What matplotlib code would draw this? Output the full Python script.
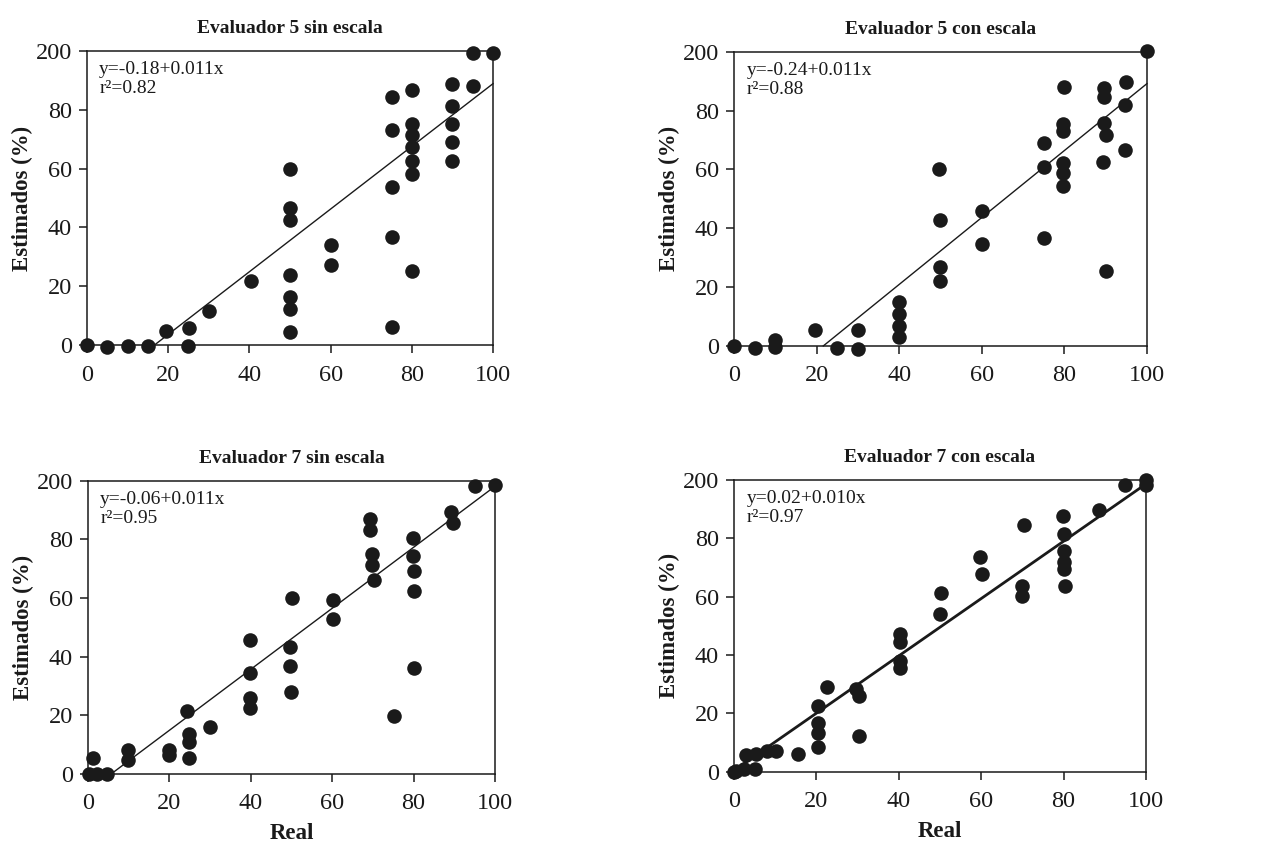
import numpy as np
import matplotlib
matplotlib.use('Agg')
import matplotlib.pyplot as plt

plt.rcParams['font.family'] = ['Liberation Serif', 'DejaVu Serif']

# Evaluador 5 sin escala
real_5s = [0, 5, 10, 15, 19.5, 24.8, 25.2, 30, 40.5, 50, 50, 50, 50, 50, 50, 50,
           60, 60, 75, 75, 75, 75, 75, 80, 80, 80, 80, 80, 80, 80,
           90, 90, 90, 90, 90, 95, 95, 100]
est_5s = [0, -0.6, -0.2, -0.2, 4.9, -0.2, 5.9, 11.7, 21.9, 60.0, 46.7, 42.7, 23.9, 16.4, 12.3, 4.3,
          34.0, 27.1, 84.3, 73.0, 53.7, 36.8, 6.0, 86.7, 75.2, 71.6, 67.4, 62.7, 58.3, 25.3,
          88.9, 81.3, 75.1, 68.9, 62.6, 99.3, 88.0, 99.3]

# Evaluador 5 con escala
real_5c = [0, 5, 10, 10, 19.7, 25, 30, 30, 40, 40, 40, 40, 49.7, 50, 50, 50,
           60, 60, 75, 75, 75, 80, 79.7, 79.7, 79.7, 79.7, 79.7,
           89.5, 89.5, 89.5, 90.1, 89.3, 90, 95, 94.8, 94.6, 100]
est_5c = [0, -0.6, 2.0, -0.2, 5.4, -0.6, 5.4, -1.1, 15.1, 10.9, 6.8, 3.2, 60.0, 42.8, 27.0, 22.1,
          45.9, 34.7, 68.9, 60.9, 36.8, 88.1, 75.4, 73.0, 62.1, 58.7, 54.4,
          87.7, 84.5, 75.7, 71.7, 62.4, 25.5, 89.6, 81.8, 66.6, 100.3]

# Evaluador 7 sin escala
real_7s = [0.2, 1.3, 2.2, 4.6, 9.8, 9.8, 19.9, 19.9, 24.4, 24.9, 24.9, 24.9, 29.9,
           39.8, 39.8, 39.8, 39.8, 50.1, 49.7, 49.7, 49.9, 60.1, 60.1,
           69.4, 69.4, 69.9, 69.9, 70.3, 75.2, 79.9, 79.9, 80.2, 80.2, 80.2,
           89.3, 89.8, 95.1, 100]
est_7s = [0, 5.3, 0, 0, 8.2, 4.8, 8.2, 6.5, 21.6, 13.7, 11.0, 5.6, 16.2,
          45.7, 34.4, 25.8, 22.4, 60.0, 43.2, 36.9, 28.0, 59.3, 53.0,
          86.9, 83.3, 75.0, 71.2, 66.3, 19.8, 80.5, 74.2, 69.3, 62.3, 36.2,
          89.2, 85.6, 98.1, 98.5]

# Evaluador 7 con escala
real_7c = [0, 0.6, 2.4, 2.8, 5.1, 5.3, 7.9, 10.3, 15.5, 20.4, 20.4, 20.4, 20.4, 22.6,
           29.7, 30.3, 30.3, 40.3, 40.4, 40.3, 40.4, 50.2, 50.1, 59.6, 60.2,
           69.9, 69.9, 70.4, 79.8, 80, 80.1, 80.1, 80.1, 80.4, 88.6, 95, 100, 100]
est_7c = [0, 0.2, 1.0, 5.9, 1.0, 6.2, 7.3, 7.1, 6.3, 22.7, 16.8, 13.3, 8.4, 29.0,
          28.4, 25.9, 12.4, 47.2, 44.4, 37.9, 35.5, 61.2, 54.0, 73.5, 67.7,
          63.5, 60.1, 84.5, 87.5, 81.5, 75.7, 71.8, 69.4, 63.5, 89.5, 98.2, 99.8, 98.0]

titles = ['Evaluador 5 sin escala', 'Evaluador 5 con escala',
          'Evaluador 7 sin escala', 'Evaluador 7 con escala']
equations = ['y=-0.18+0.011x', 'y=-0.24+0.011x', 'y=-0.06+0.011x', 'y=0.02+0.010x']
r2_values = ['0.82', '0.88', '0.95', '0.97']
# fitted lines as drawn (intercept, slope in % units)
intercepts = [-17.7, -24.6, -5.9, 0.5]
slopes = [1.066, 1.138, 1.04, 0.98]

xticks = [0, 20, 40, 60, 80, 100]
yticks = [0, 20, 40, 60, 80, 100]
ytick_labels = ['0', '20', '40', '60', '80', '200']

reals = [real_5s, real_5c, real_7s, real_7c]
ests = [est_5s, est_5c, est_7s, est_7c]

positions = [
    [0.0683, 0.594, 0.319, 0.346],
    [0.5766, 0.593, 0.3244, 0.346],
    [0.0691, 0.0894, 0.3197, 0.345],
    [0.5766, 0.0918, 0.3236, 0.344],
]
line_widths = [1.0, 1.0, 1.0, 2.0]

fig = plt.figure(figsize=(12.73, 8.5), dpi=100)

for i in range(4):
    ax = fig.add_axes(positions[i])
    ax.scatter(reals[i], ests[i], s=110, color='#1a1a1a', zorder=3, clip_on=False,
               linewidths=0)
    x0 = max(0, -intercepts[i] / slopes[i])
    xl = np.array([x0, 100])
    ax.plot(xl, intercepts[i] + slopes[i] * xl, color='#1a1a1a', lw=line_widths[i],
            zorder=2, clip_on=False)
    ax.set_xlim(0, 100)
    ax.set_ylim(0, 100)
    ax.set_xticks(xticks)
    ax.set_yticks(yticks)
    ax.set_yticklabels(ytick_labels)
    ax.tick_params(direction='out', length=6, width=1.1, labelsize=17.5, colors='#1a1a1a')
    ax.tick_params(axis='x', pad=8)
    ax.tick_params(axis='y', pad=5)
    for sp in ax.spines.values():
        sp.set_linewidth(1.1)
        sp.set_color('#1a1a1a')
    ax.set_title(titles[i], fontsize=14, fontweight='bold', pad=13, color='#1a1a1a')
    ax.set_ylabel('Estimados (%)', fontsize=16.5, fontweight='bold', labelpad=2,
                  color='#1a1a1a')
    if i >= 2:
        ax.set_xlabel('Real', fontsize=16.5, fontweight='bold', labelpad=6,
                      color='#1a1a1a')
    ax.text(0.03, 0.965, equations[i] + '\nr²=' + r2_values[i], transform=ax.transAxes,
            ha='left', va='top', fontsize=14, color='#1a1a1a', linespacing=1.15)

fig.savefig('out.png', dpi=100)
